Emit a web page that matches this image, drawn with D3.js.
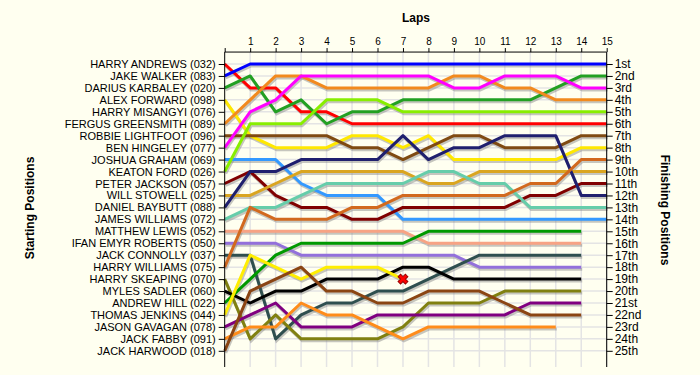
<!DOCTYPE html>
<html>
<head>
<meta charset="utf-8">
<script src="https://cdn.jsdelivr.net/npm/d3@7"></script>
<style>
	body { margin: 0; background: #fffff0; }
	svg { display: block; font-family: "Liberation Sans", Arial, sans-serif; }
</style>
</head>
<body>
<svg id="chart" width="700" height="375"></svg>
<script>
// starting grid, in order
var drivers = [
	"HARRY ANDREWS (032)", "JAKE WALKER (083)", "DARIUS KARBALEY (020)", "ALEX FORWARD (098)",
	"HARRY MISANGYI (076)", "FERGUS GREENSMITH (089)", "ROBBIE LIGHTFOOT (096)", "BEN HINGELEY (077)",
	"JOSHUA GRAHAM (069)", "KEATON FORD (026)", "PETER JACKSON (057)", "WILL STOWELL (025)",
	"DANIEL BAYBUTT (088)", "JAMES WILLIAMS (072)", "MATTHEW LEWIS (052)", "IFAN EMYR ROBERTS (050)",
	"JACK CONNOLLY (037)", "HARRY WILLIAMS (075)", "HARRY SKEAPING (070)", "MYLES SADLER (060)",
	"ANDREW HILL (022)", "THOMAS JENKINS (044)", "JASON GAVAGAN (078)", "JACK FABBY (091)",
	"JACK HARWOOD (018)"
];

var finishLabels = ["1st", "2nd", "3rd", "4th", "5th", "6th", "7th", "8th", "9th", "10th",
	"11th", "12th", "13th", "14th", "15th", "16th", "17th", "18th", "19th", "20th",
	"21st", "22nd", "23rd", "24th", "25th"];

var laps = d3.range(0, 16);

var lineColors = ["#ff0000", "#0000ff", "#22a022", "#ffe800", null, "#f28a1e", "#7f4a12", "#ff00ff",
	"#3399ff", "#88ee00", "#800000", "#daa520", "#1f1f6e", "#66cdaa", "#f7a384", "#9370db",
	"#2f4f4f", "#d2691e", "#808010", "#000000", "#009900", "#ffee00", "#800080", "#ff8c1a",
	"#8b4513"];

// position at each lap, lap 0 = grid (HARRY MISANGYI did not start)
var positions = [
	[1, 3, 3, 5, 5, 6, 6, 6, 6, 6, 6, 6, 6, 6, 6, 6],
	[2, 1, 1, 1, 1, 1, 1, 1, 1, 1, 1, 1, 1, 1, 1, 1],
	[3, 2, 5, 4, 6, 5, 5, 4, 4, 4, 4, 4, 4, 3, 2, 2],
	[4, 7, 8, 8, 8, 7, 7, 8, 7, 9, 9, 9, 9, 9, 8, 8],
	[],
	[6, 4, 2, 2, 3, 3, 3, 3, 3, 2, 2, 3, 3, 4, 4, 4],
	[7, 7, 7, 7, 7, 8, 8, 9, 8, 7, 7, 8, 8, 8, 7, 7],
	[8, 5, 4, 2, 2, 2, 2, 2, 2, 3, 3, 2, 2, 2, 3, 3],
	[9, 9, 9, 11, 12, 12, 12, 14, 14, 14, 14, 14, 14, 14, 14, 14],
	[10, 6, 6, 6, 4, 4, 4, 5, 5, 5, 5, 5, 5, 5, 5, 5],
	[11, 10, 12, 13, 13, 14, 14, 13, 13, 13, 13, 13, 12, 12, 11, 11],
	[12, 12, 11, 10, 10, 10, 10, 10, 11, 11, 10, 10, 10, 10, 10, 10],
	[13, 10, 10, 9, 9, 9, 9, 7, 9, 8, 8, 7, 7, 7, 12, 12],
	[14, 13, 13, 12, 11, 11, 11, 11, 10, 10, 11, 11, 13, 13, 13, 13],
	[15, 15, 15, 15, 15, 15, 15, 15, 16, 16, 16, 16, 16, 16, 16],
	[16, 16, 16, 17, 17, 17, 17, 17, 17, 17, 18, 18, 18, 18, 18],
	[17, 17, 24, 22, 21, 21, 20, 20, 19, 18, 17, 17, 17, 17, 17],
	[18, 13, 14, 14, 14, 13, 13, 12, 12, 12, 12, 12, 11, 11, 9, 9],
	[19, 24, 22, 24, 24, 24, 24, 23, 21, 21, 21, 20, 20, 20, 20],
	[20, 21, 20, 20, 19, 19, 19, 18, 18, 19, 19, 19, 19, 19, 19],
	[21, 19, 17, 16, 16, 16, 16, 16, 15, 15, 15, 15, 15, 15, 15],
	[22, 17, 18, 19, 18, 18, 18, 19],
	[23, 22, 21, 23, 23, 23, 22, 22, 22, 22, 22, 22, 21, 21, 21],
	[24, 23, 23, 21, 22, 22, 23, 24, 23, 23, 23, 23, 23, 23],
	[25, 20, 19, 18, 20, 20, 21, 21, 20, 20, 20, 21, 22, 22, 22]
];

// retirements: driver index (0 based) and the lap where the X goes
var retired = [{ driver: 21, lap: 7 }];

var svg = d3.select("#chart");

var x = d3.scaleLinear().domain([0, 15]).range([224.7, 606.7]);
var y = d3.scaleLinear().domain([0, 26]).range([52.05, 362.75]);
var bottom = 367;

// grid
var grid = svg.append("g");
grid.selectAll("line.v").data(laps.slice(1)).enter().append("line")
	.attr("x1", function(d) { return x(d); }).attr("x2", function(d) { return x(d); })
	.attr("y1", y(0)).attr("y2", bottom)
	.attr("stroke", "#e4e4e4").attr("stroke-width", 1.5);
grid.selectAll("line.h").data(d3.range(1, 26)).enter().append("line")
	.attr("x1", x(0)).attr("x2", x(15))
	.attr("y1", function(d) { return y(d); }).attr("y2", function(d) { return y(d); })
	.attr("stroke", "#e4e4e4").attr("stroke-width", 1.5);

// lines, with a soft shadow underneath
var line = d3.line()
	.x(function(d, i) { return x(i); })
	.y(function(d) { return y(d); });

var series = positions.map(function(p, i) { return { values: p, color: lineColors[i] }; })
	.filter(function(s) { return s.values.length > 1; });

svg.append("g").selectAll("path").data(series).enter().append("path")
	.attr("d", function(s) { return line(s.values); })
	.attr("transform", "translate(1,2)")
	.attr("fill", "none")
	.attr("stroke", "#808080")
	.attr("stroke-opacity", 0.45)
	.attr("stroke-width", 3);

svg.append("g").selectAll("path").data(series).enter().append("path")
	.attr("d", function(s) { return line(s.values); })
	.attr("fill", "none")
	.attr("stroke", function(s) { return s.color; })
	.attr("stroke-width", 3)
	.attr("stroke-linejoin", "round");

// retirement markers
var cross = d3.symbol().type(d3.symbolCross).size(60);
svg.append("g").selectAll("path").data(retired).enter().append("path")
	.attr("d", cross)
	.attr("transform", function(r) {
		return "translate(" + x(r.lap) + "," + y(positions[r.driver][r.lap]) + ") rotate(45)";
	})
	.attr("fill", "#ff0000")
	.attr("stroke", "#990000")
	.attr("stroke-width", 1);

// axes
var topAxis = d3.axisTop(x).tickValues(laps).tickSize(4).tickPadding(3)
	.tickFormat(function(d) { return d === 0 ? "" : d; });
var gTop = svg.append("g").attr("transform", "translate(0," + y(0) + ")").call(topAxis);
gTop.select(".domain").attr("d", "M" + x(0) + ",0H" + x(15));
gTop.selectAll("text").attr("font-size", 10).attr("font-family", null).attr("fill", "#000");

var leftAxis = d3.axisLeft(y).tickValues(d3.range(1, 26)).tickSize(6).tickPadding(3)
	.tickFormat(function(d) { return drivers[d - 1]; });
var gLeft = svg.append("g").attr("transform", "translate(" + x(0) + ",0)").call(leftAxis);
gLeft.select(".domain").attr("d", "M0," + y(0) + "V" + bottom);
gLeft.selectAll("text").attr("font-size", 11).attr("font-family", null).attr("fill", "#000");

var rightAxis = d3.axisRight(y).tickValues(d3.range(1, 26)).tickSize(6).tickPadding(2)
	.tickFormat(function(d) { return finishLabels[d - 1]; });
var gRight = svg.append("g").attr("transform", "translate(" + x(15) + ",0)").call(rightAxis);
gRight.select(".domain").attr("d", "M0," + y(0) + "V" + bottom);
gRight.selectAll("text").attr("font-size", 12).attr("font-family", null).attr("fill", "#000");

svg.selectAll(".domain").attr("stroke", "#000");
svg.selectAll(".tick line").attr("stroke", "#000");

// titles
svg.append("text")
	.attr("x", 416).attr("y", 22)
	.attr("text-anchor", "middle")
	.attr("font-size", 12).attr("font-weight", "bold")
	.text("Laps");

svg.append("text")
	.attr("transform", "translate(34,208) rotate(-90)")
	.attr("text-anchor", "middle")
	.attr("font-size", 12).attr("font-weight", "bold")
	.text("Starting Positions");

svg.append("text")
	.attr("transform", "translate(661,210) rotate(90)")
	.attr("text-anchor", "middle")
	.attr("font-size", 12).attr("font-weight", "bold")
	.text("Finishing Positions");
</script>
</body>
</html>
